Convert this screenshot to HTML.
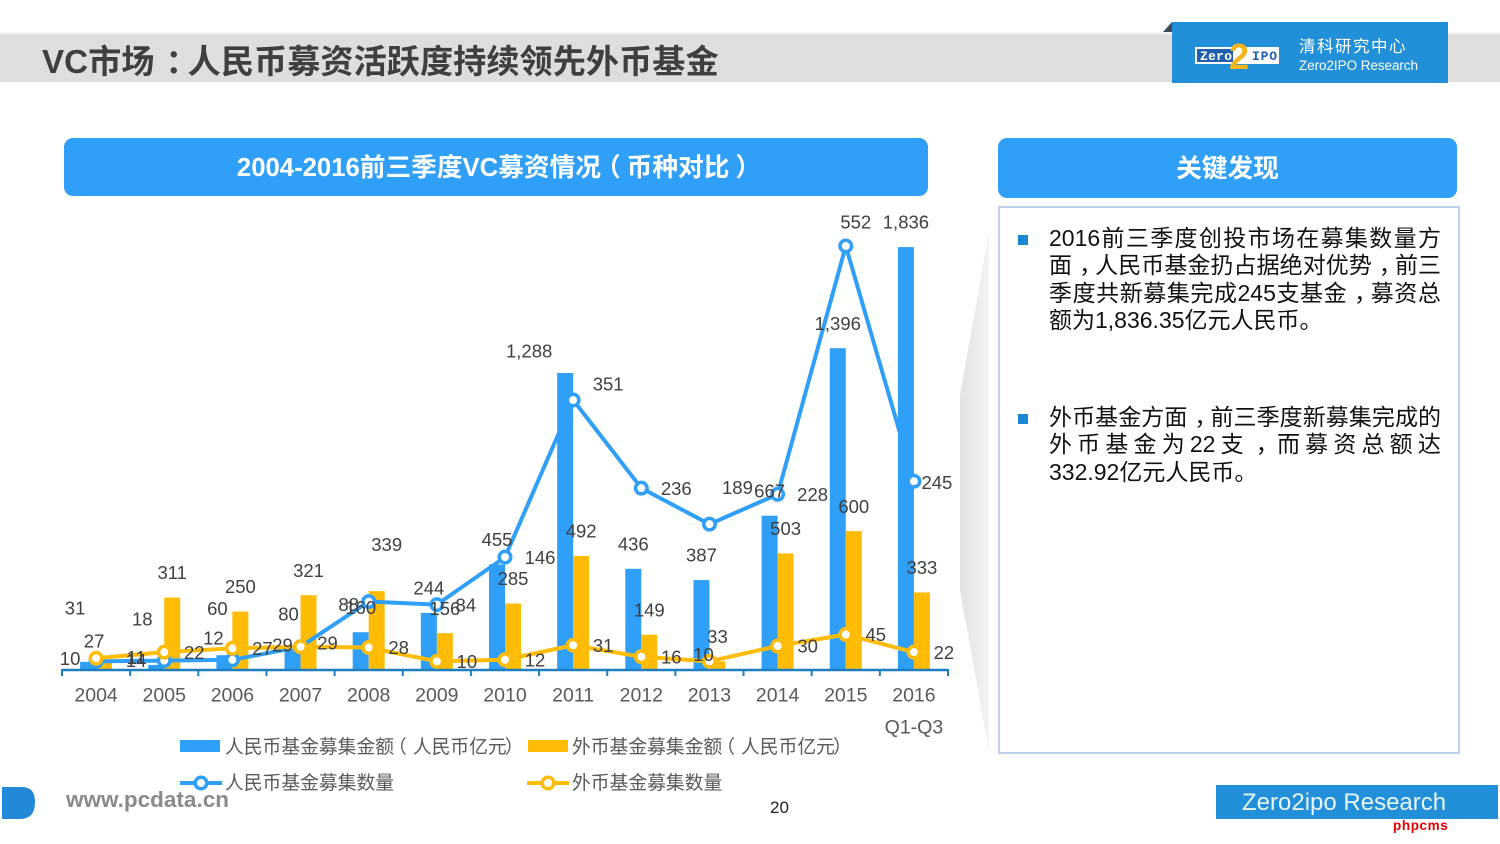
<!DOCTYPE html>
<html lang="zh">
<head>
<meta charset="utf-8">
<title>VC市场</title>
<style>
html,body{margin:0;padding:0;background:#fff;}
#page{position:relative;width:1500px;height:844px;overflow:hidden;background:#fff;font-family:"Liberation Sans","Noto Sans CJK SC",sans-serif;}
#page>div,#page>svg{position:absolute;}
.band{left:0;top:35px;width:1500px;height:47px;background:#dedede;border-top:2px solid #e8e8e8;box-sizing:content-box;margin-top:-2px;}
.title{left:42px;top:41px;font-size:33.2px;line-height:44px;font-weight:bold;color:#3f3f3f;white-space:nowrap;}
.hdr{background:#2f9ff7;border-radius:9px;color:#fff;font-weight:bold;font-size:25.7px;text-align:center;}
.panel{left:998px;top:206px;width:458px;height:544px;border:2px solid #bdd0ec;background:#fff;}
.bullet{left:1018px;width:10px;height:10px;background:#1a87d4;}
.ln{left:1049px;width:392px;font-size:23px;line-height:28px;height:28px;color:#111;white-space:nowrap;}
.ln.j{text-align:justify;text-align-last:justify;}
.cm{position:relative;left:7px;}
.co{position:relative;left:11px;}
.pl{position:relative;left:-6px;}
.pr{position:relative;left:6px;}
</style>
</head>
<body>
<div id="page">
  <div class="band"></div>
  <div class="title">VC市场<span class="co">：</span>人民币募资活跃度持续领先外币基金</div>

  <svg style="left:1160px;top:18px" width="295" height="70">
    <polygon points="3,14 12,4 12,14" fill="#3b4a5a"/>
    <rect x="12" y="4" width="276" height="61" fill="#2190d9"/>
    <rect x="35" y="29" width="84" height="17" fill="#fff"/>
    <rect x="37" y="31" width="36" height="13" fill="#1f5fae"/>
    <text x="40" y="42" font-family="Liberation Mono" font-weight="bold" font-size="13" fill="#fff" textLength="32">Zero</text>
    <text x="92" y="42" font-family="Liberation Mono" font-weight="bold" font-size="13" fill="#1f5fae" textLength="25">IPO</text>
    <text x="69" y="51" font-family="Liberation Sans" font-weight="bold" font-size="36" fill="#f3b61b">2</text>
    <text x="139" y="34" font-family="Liberation Sans,Noto Sans CJK SC,sans-serif" font-size="16.5" letter-spacing="1.5" fill="#fff">清科研究中心</text>
    <text x="139" y="52" font-family="Liberation Sans" font-size="13.5" fill="#fff" textLength="119">Zero2IPO Research</text>
  </svg>

  <div class="hdr" style="left:64px;top:138px;width:864px;height:58px;line-height:61px;">2004-2016前三季度VC募资情况<span class="pl">（</span>币种对比<span class="pr">）</span></div>
  <div class="hdr" style="left:998px;top:138px;width:459px;height:60px;line-height:63px;">关键发现</div>

  <svg style="left:955px;top:225px" width="40" height="535">
    <defs><linearGradient id="wg" x1="0" x2="1" y1="0" y2="0"><stop offset="0" stop-color="#e2e2e2"/><stop offset="1" stop-color="#f4f4f4"/></linearGradient></defs>
    <polygon points="34,7 34,527 5,365 5,170" fill="url(#wg)"/>
  </svg>

  <div class="panel"></div>
  <div class="bullet" style="top:235px"></div>
  <div class="ln j" style="top:224px">2016前三季度创投市场在募集数量方</div>
  <div class="ln j" style="top:251px;display:flex;justify-content:space-between;"><span>面</span><span class="cm">，</span><span>人</span><span>民</span><span>币</span><span>基</span><span>金</span><span>扔</span><span>占</span><span>据</span><span>绝</span><span>对</span><span>优</span><span>势</span><span class="cm">，</span><span>前</span><span>三</span></div>
  <div class="ln j" style="top:279px;display:flex;justify-content:space-between;"><span>季</span><span>度</span><span>共</span><span>新</span><span>募</span><span>集</span><span>完</span><span>成</span><span>245</span><span>支</span><span>基</span><span>金</span><span class="cm">，</span><span>募</span><span>资</span><span>总</span></div>
  <div class="ln" style="top:306px">额为1,836.35亿元人民币。</div>
  <div class="bullet" style="top:414px"></div>
  <div class="ln j" style="top:403px;display:flex;justify-content:space-between;"><span>外</span><span>币</span><span>基</span><span>金</span><span>方</span><span>面</span><span class="cm">，</span><span>前</span><span>三</span><span>季</span><span>度</span><span>新</span><span>募</span><span>集</span><span>完</span><span>成</span><span>的</span></div>
  <div class="ln" style="top:430px;display:flex;justify-content:space-between;"><span>外</span><span>币</span><span>基</span><span>金</span><span>为</span><span>22</span><span>支</span><span class="cm">，</span><span>而</span><span>募</span><span>资</span><span>总</span><span>额</span><span>达</span></div>
  <div class="ln" style="top:458px">332.92亿元人民币。</div>

  <svg id="chart" style="left:0;top:200px" width="960" height="600" viewBox="0 200 960 600"></svg>

  <svg style="left:0;top:780px" width="40" height="45">
    <path d="M2 7 H22 Q35 7 35 22 Q35 39 20 39 H2 Z" fill="#2189d8"/>
  </svg>
  <div style="left:66px;top:786px;font-size:22.5px;line-height:28px;color:#8a8a8a;white-space:nowrap;font-weight:bold;">www.pcdata.cn</div>
  <div style="left:770px;top:799px;font-size:17px;line-height:18px;color:#222;">20</div>
  <div style="left:1216px;top:785px;width:282px;height:34px;background:#2190d9;color:#e8f6ff;font-size:24px;line-height:35px;text-indent:26px;white-space:nowrap;">Zero2ipo Research</div>
  <div style="left:1393px;top:819px;font-size:13.5px;line-height:14px;font-weight:bold;color:#e30000;font-family:'Liberation Sans',sans-serif;letter-spacing:.6px;">phpcms</div>
</div>

<script>
const categories = ["2004","2005","2006","2007","2008","2009","2010","2011","2012","2013","2014","2015","2016"];
const rmbAmount = [31,18,60,80,160,244,455,1288,436,387,667,1396,1836];
const foreignAmount = [27,311,250,321,339,156,285,492,149,33,503,600,333];
const rmbCount = [10,11,12,29,88,84,146,351,236,189,228,552,245];
const foreignCount = [14,22,27,29,28,10,12,31,16,10,30,45,22];
const legendBarLabels = ["人民币基金募集金额（人民币亿元）","外币基金募集金额（人民币亿元）"];
const legendLineLabels = ["人民币基金募集数量","外币基金募集数量"];

const BLUE = "#2f9ff7", GOLD = "#ffbc07";
const axisLeft = 62, axisRight = 948, baseY = 669;
const amountScale = 0.2298, countScale = 0.7663;
const bandW = (axisRight - axisLeft) / categories.length;
const xAt = i => axisLeft + (i + 0.5) * bandW;
const yAmount = v => baseY - v * amountScale;
const yCount = v => baseY - v * countScale;
const fmt = v => v.toLocaleString("en-US");

const svg = document.getElementById("chart");
const NS = "http://www.w3.org/2000/svg";
function mk(tag, attrs, parent) {
  const el = document.createElementNS(NS, tag);
  for (const k in attrs) el.setAttribute(k, attrs[k]);
  (parent || svg).appendChild(el);
  return el;
}
function label(text, cx, cy, size, fill, anchor) {
  const t = mk("text", {
    x: cx, y: cy + size * 0.36, "font-size": size, fill: fill,
    "text-anchor": anchor || "middle",
    "font-family": '"Liberation Sans","Noto Sans CJK SC",sans-serif'
  });
  t.textContent = text;
  return t;
}
function legendLabel(text, x, y) {
  const t = label("", x, y, 18.8, "#595959", "start");
  t.innerHTML = text.replace("（", '<tspan dx="-6">（</tspan><tspan dx="6">').replace("）", '</tspan><tspan dx="-2">）</tspan>');
  return t;
}

/* manual label placement tweaks (layout only), keyed by category index */
const rmbAmountNudge = {0:[-13,-29],1:[-14,-21],2:[-7,-22],3:[-4,-12],7:[-36,3]};
const foreignAmountNudge = {0:[-10,3],4:[10,-22]};
const rmbCountNudge = {0:[-61,-3],1:[-63,-3],2:[-54,-22],3:[-53,-2],4:[-55,3],5:[-6,0],7:[0,-16],9:[-7,-37],11:[-25,-24],12:[-12,1]};
const foreignCountNudge = {0:[10,2],3:[-3,-4],9:[-36,-7]};

/* bars */
categories.forEach((c, i) => {
  const x = xAt(i);
  const b1 = mk("rect", {x: x - 16, y: yAmount(rmbAmount[i]), width: 16, height: baseY - yAmount(rmbAmount[i]), fill: BLUE});
  
  
  const b2 = mk("rect", {x: x, y: yAmount(foreignAmount[i]), width: 16, height: baseY - yAmount(foreignAmount[i]), fill: GOLD});
  
  
});

/* axis */
const axisLine = mk("line", {x1: axisLeft, x2: axisRight, y1: baseY + 1, y2: baseY + 1, stroke: "#1c7fc2", "stroke-width": 2.5});


for (let i = 0; i <= categories.length; i++) {
  const tx = axisLeft + i * bandW;
  const tick = mk("line", {x1: tx, x2: tx, y1: baseY, y2: baseY + 7, stroke: "#1c7fc2", "stroke-width": 2});
  
  
}
categories.forEach((c, i) => {
  const t = label(c, xAt(i), 694.5, 19.5, "#595959");
  
  
});
const qLabel = label("Q1-Q3", xAt(12), 726.5, 19.5, "#595959");



/* lines */
function drawLine(values, color, name) {
  const pts = values.map((v, i) => xAt(i) + "," + yCount(v)).join(" ");
  const pl = mk("polyline", {points: pts, fill: "none", stroke: color, "stroke-width": 4, "stroke-linejoin": "round"});
  
  
  values.forEach((v, i) => {
    const m = mk("circle", {cx: xAt(i), cy: yCount(v), r: 5.75, fill: "#fff", stroke: color, "stroke-width": 3.5});
    
    
  });
}
drawLine(rmbCount, BLUE, "rmb-count");
drawLine(foreignCount, GOLD, "foreign-count");

/* data labels */
const LABEL = "#404040", LSIZE = 18.5;
categories.forEach((c, i) => {
  let n = rmbAmountNudge[i] || [0, 0];
  const a = label(fmt(rmbAmount[i]), xAt(i) - 8 + n[0], yAmount(rmbAmount[i]) - 25 + n[1], LSIZE, LABEL);
  
  

  n = foreignAmountNudge[i] || [0, 0];
  const b = label(fmt(foreignAmount[i]), xAt(i) + 8 + n[0], yAmount(foreignAmount[i]) - 25 + n[1], LSIZE, LABEL);
  
  

  n = rmbCountNudge[i] || [0, 0];
  const d = label(fmt(rmbCount[i]), xAt(i) + 35 + n[0], yCount(rmbCount[i]) + n[1], LSIZE, LABEL);
  
  

  n = foreignCountNudge[i] || [0, 0];
  const e = label(fmt(foreignCount[i]), xAt(i) + 30 + n[0], yCount(foreignCount[i]) + n[1], LSIZE, LABEL);
  
  
});

/* legend */
const legend = mk("g", {});


const k1 = mk("rect", {x: 180, y: 740, width: 40, height: 12, fill: BLUE}, legend);


const k2 = mk("rect", {x: 528, y: 740, width: 40, height: 12, fill: GOLD}, legend);


const t1 = legendLabel(legendBarLabels[0], 225, 746);


const t2 = legendLabel(legendBarLabels[1], 572, 746);


const l1 = mk("line", {x1: 180, x2: 222, y1: 783, y2: 783, stroke: BLUE, "stroke-width": 4}, legend);


const c1 = mk("circle", {cx: 201, cy: 783, r: 5.75, fill: "#fff", stroke: BLUE, "stroke-width": 3.5}, legend);


const l2 = mk("line", {x1: 527, x2: 569, y1: 783, y2: 783, stroke: GOLD, "stroke-width": 4}, legend);


const c2 = mk("circle", {cx: 548, cy: 783, r: 5.75, fill: "#fff", stroke: GOLD, "stroke-width": 3.5}, legend);


const t3 = legendLabel(legendLineLabels[0], 225, 782);


const t4 = legendLabel(legendLineLabels[1], 572, 782);


</script>
</body>
</html>
